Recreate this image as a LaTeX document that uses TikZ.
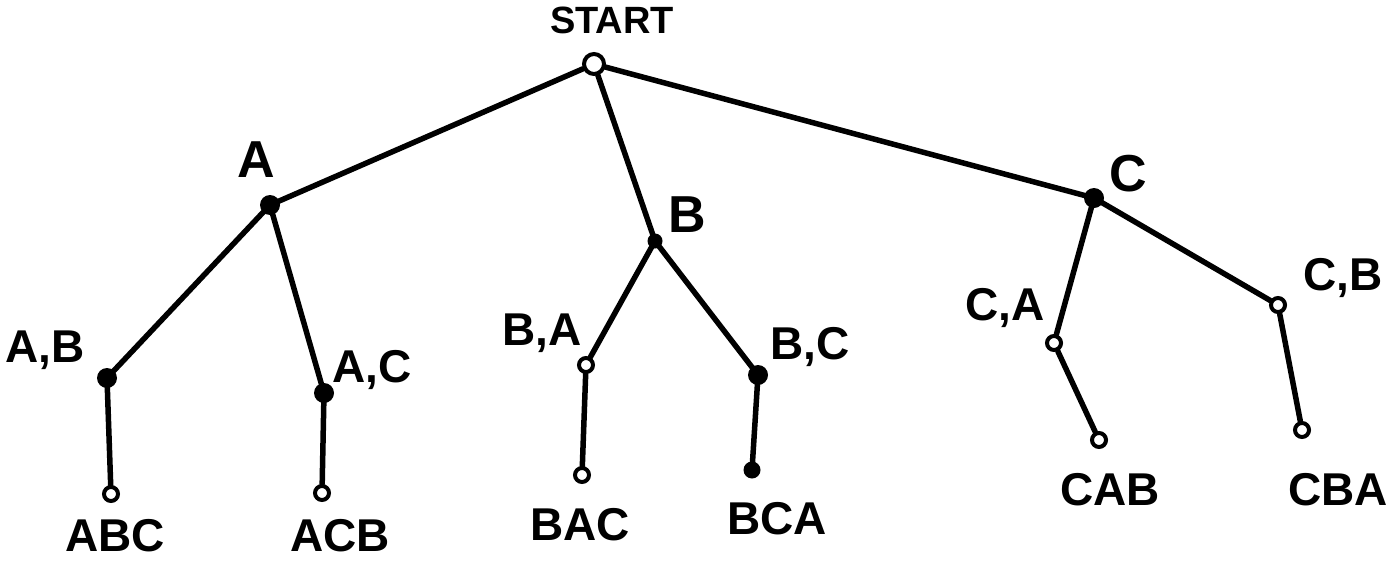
\documentclass[tikz,border=0pt]{standalone}
\usepackage{fontspec}
\setmainfont{Liberation Sans}
\begin{document}
\begin{tikzpicture}[x=1pt,y=-1pt,
  edge/.style={line width=5.5pt,line cap=round},
  fullpt/.style={circle,fill=black,inner sep=0pt,minimum size=20pt},
  openpt/.style={circle,draw=black,line width=4pt,fill=white,inner sep=0pt,minimum size=14pt},
  lbl/.style={font=\bfseries\fontsize{46}{50}\selectfont,inner sep=0pt},
  biglbl/.style={font=\bfseries\fontsize{52}{56}\selectfont,inner sep=0pt},
  toplbl/.style={font=\bfseries\fontsize{38}{42}\selectfont,inner sep=0pt}]
\useasboundingbox (0,0) rectangle (1397,562);
% tree nodes
\node[openpt,minimum size=20pt] (s) at (594,64) {};
\node[fullpt] (a) at (270,205) {};
\node[fullpt,minimum size=15pt] (b) at (655,241) {};
\node[fullpt] (c) at (1094,198) {};
\node[fullpt] (ab) at (107,378) {};
\node[fullpt] (ac) at (324,393) {};
\node[openpt] (ba) at (586,365) {};
\node[fullpt] (bc) at (758,375) {};
\node[openpt] (ca) at (1054,343) {};
\node[openpt] (cb) at (1278,305) {};
\node[openpt] (abc) at (111,494) {};
\node[openpt] (acb) at (322,493) {};
\node[openpt] (bac) at (582,475) {};
\node[fullpt,minimum size=17pt] (bca) at (752,470) {};
\node[openpt] (cab) at (1099,440) {};
\node[openpt] (cba) at (1302,430) {};
% connectors
\draw[edge] (s) -- (a.center);
\draw[edge] (s) -- (b.center);
\draw[edge] (s) -- (c.center);
\draw[edge] (a.center) -- (ab.center);
\draw[edge] (a.center) -- (ac.center);
\draw[edge] (b.center) -- (ba);
\draw[edge] (b.center) -- (bc.center);
\draw[edge] (c.center) -- (ca);
\draw[edge] (c.center) -- (cb);
\draw[edge] (ab.center) -- (abc);
\draw[edge] (ac.center) -- (acb);
\draw[edge] (ba) -- (bac);
\draw[edge] (bc.center) -- (bca.center);
\draw[edge] (ca) -- (cab);
\draw[edge] (cb) -- (cba);
% labels
\node[toplbl] (ls) at (612,20) {START};
\node[biglbl] (la) at (256,160) {A};
\node[biglbl] (lb) at (687,215) {B};
\node[biglbl] (lc) at (1128,174) {C};
\node[lbl] (lab) at (45,350) {A,B};
\node[lbl] (lac) at (372,370) {A,C};
\node[lbl] (lba) at (542,333) {B,A};
\node[lbl] (lbc) at (810,347) {B,C};
\node[lbl] (lca) at (1005,308) {C,A};
\node[lbl] (lcb) at (1343,278) {C,B};
\node[lbl] (labc) at (115,536) {ABC};
\node[lbl] (lacb) at (340,536) {ACB};
\node[lbl] (lbac) at (580,525) {BAC};
\node[lbl] (lbca) at (777,519) {BCA};
\node[lbl] (lcab) at (1110,490) {CAB};
\node[lbl] (lcba) at (1338,490) {CBA};
\end{tikzpicture}
\end{document}
